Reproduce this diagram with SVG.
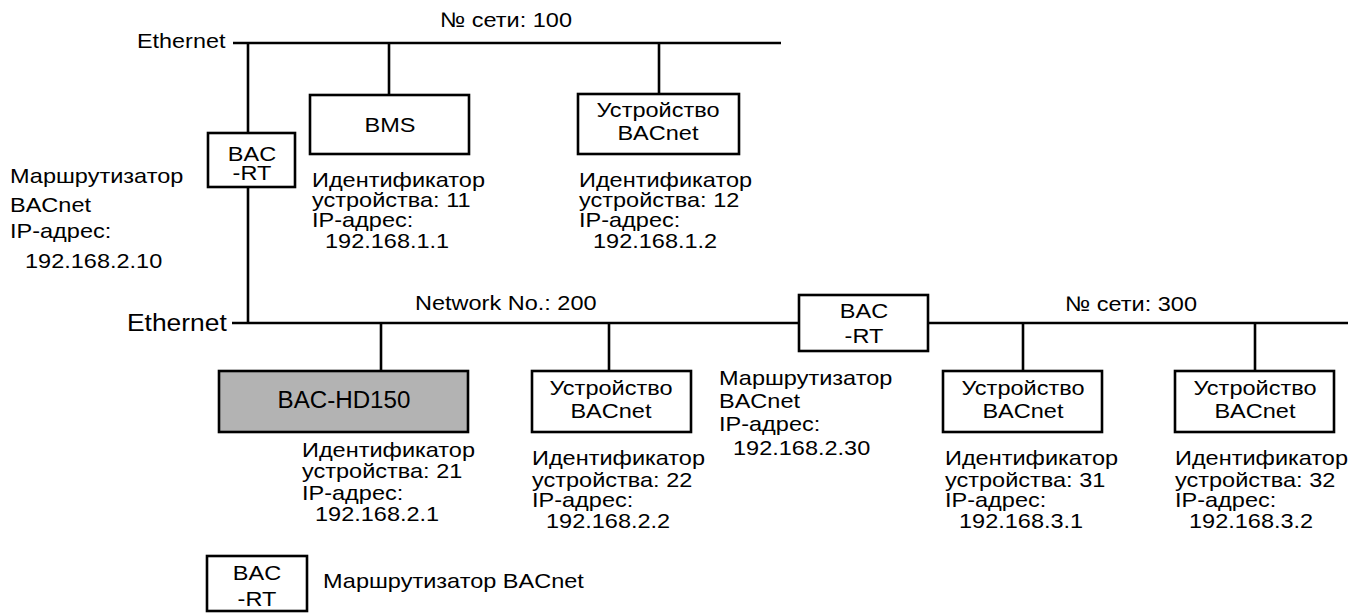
<svg xmlns="http://www.w3.org/2000/svg" width="1355" height="614" viewBox="0 0 1355 614">
<style>
text{font-family:"Liberation Sans",Arial,sans-serif;font-size:21px;fill:#000;transform-box:fill-box;transform-origin:left center;transform:scaleX(1.12)}
text.c{text-anchor:middle;transform-origin:center}
.box{fill:#fff;stroke:#000;stroke-width:2.6}
.gray{fill:#b3b3b3;stroke:#000;stroke-width:2.6}
.ln{stroke:#000;stroke-width:2.6;fill:none}
</style>
<rect width="1355" height="614" fill="#fff"/>
<g id="connectors">
<line class="ln" x1="233" y1="43" x2="781" y2="43"/>
<line class="ln" x1="248" y1="43" x2="248" y2="133"/>
<line class="ln" x1="248" y1="187" x2="248" y2="323"/>
<line class="ln" x1="389" y1="43" x2="389" y2="95"/>
<line class="ln" x1="659" y1="43" x2="659" y2="94"/>
<line class="ln" x1="232" y1="323" x2="799" y2="323"/>
<line class="ln" x1="928" y1="323" x2="1348" y2="323"/>
<line class="ln" x1="381" y1="323" x2="381" y2="371"/>
<line class="ln" x1="609" y1="323" x2="609" y2="371"/>
<line class="ln" x1="1023" y1="323" x2="1023" y2="371"/>
<line class="ln" x1="1255" y1="323" x2="1255" y2="371"/>
</g>
<g id="labels">
<text x="137" y="48" style="font-size:20px;transform:scaleX(1.17)">Ethernet</text>
<text x="440" y="27">№ сети: 100</text>
<text x="127" y="331" style="font-size:24px;transform:scaleX(1.1)">Ethernet</text>
<text x="415" y="310">Network No.: 200</text>
<text x="1065" y="311">№ сети: 300</text>
</g>
<g id="router1">
<rect class="box" x="208" y="133" width="87" height="54"/>
<text class="c" x="252" y="161">BAC</text>
<text class="c" x="252" y="180">-RT</text>
<text x="10" y="183">Маршрутизатор</text>
<text x="10" y="212">BACnet</text>
<text x="10" y="238">IP-адрес:</text>
<text x="25" y="268">192.168.2.10</text>
</g>
<g id="bms">
<rect class="box" x="310" y="95" width="159" height="59"/>
<text class="c" x="390" y="132">BMS</text>
<text x="312" y="187">Идентификатор</text>
<text x="312" y="207">устройства: 11</text>
<text x="312" y="227">IP-адрес:</text>
<text x="325" y="248">192.168.1.1</text>
</g>
<g id="dev12">
<rect class="box" x="578" y="94" width="161" height="60"/>
<text class="c" x="658" y="117">Устройство</text>
<text class="c" x="658" y="140">BACnet</text>
<text x="579" y="187">Идентификатор</text>
<text x="579" y="207">устройства: 12</text>
<text x="579" y="227">IP-адрес:</text>
<text x="593" y="248">192.168.1.2</text>
</g>
<g id="hd150">
<rect class="gray" x="219" y="371" width="249" height="61"/>
<text class="c" x="344" y="408" style="font-size:23px;transform:scaleX(1.05)">BAC-HD150</text>
<text x="302" y="457">Идентификатор</text>
<text x="302" y="478">устройства: 21</text>
<text x="302" y="500">IP-адрес:</text>
<text x="315" y="521">192.168.2.1</text>
</g>
<g id="dev22">
<rect class="box" x="532" y="371" width="159" height="61"/>
<text class="c" x="611" y="395">Устройство</text>
<text class="c" x="611" y="418">BACnet</text>
<text x="532" y="465">Идентификатор</text>
<text x="532" y="487">устройства: 22</text>
<text x="532" y="507">IP-адрес:</text>
<text x="546" y="528">192.168.2.2</text>
</g>
<g id="router2">
<rect class="box" x="799" y="295" width="129" height="56"/>
<text class="c" x="864" y="318">BAC</text>
<text class="c" x="864" y="343">-RT</text>
<text x="719" y="385">Маршрутизатор</text>
<text x="719" y="408">BACnet</text>
<text x="719" y="431">IP-адрес:</text>
<text x="733" y="455">192.168.2.30</text>
</g>
<g id="dev31">
<rect class="box" x="943" y="371" width="159" height="61"/>
<text class="c" x="1023" y="395">Устройство</text>
<text class="c" x="1023" y="418">BACnet</text>
<text x="945" y="465">Идентификатор</text>
<text x="945" y="487">устройства: 31</text>
<text x="945" y="507">IP-адрес:</text>
<text x="959" y="528">192.168.3.1</text>
</g>
<g id="dev32">
<rect class="box" x="1175" y="371" width="159" height="61"/>
<text class="c" x="1255" y="395">Устройство</text>
<text class="c" x="1255" y="418">BACnet</text>
<text x="1175" y="465">Идентификатор</text>
<text x="1175" y="487">устройства: 32</text>
<text x="1175" y="507">IP-адрес:</text>
<text x="1189" y="528">192.168.3.2</text>
</g>
<g id="legend">
<rect class="box" x="207" y="556" width="100" height="55"/>
<text class="c" x="257" y="580">BAC</text>
<text class="c" x="257" y="606">-RT</text>
<text x="323" y="588">Маршрутизатор BACnet</text>
</g>
</svg>
